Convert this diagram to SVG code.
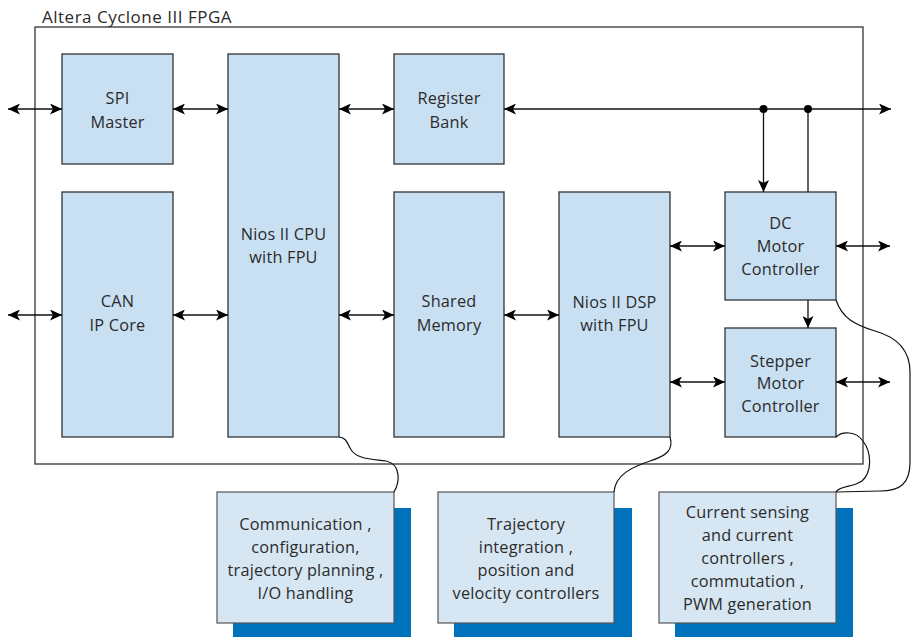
<svg xmlns="http://www.w3.org/2000/svg" width="911" height="637" viewBox="0 0 911 637">
<style>
.blk{fill:#c9e0f3;stroke:#333;stroke-width:1.3}
.note{fill:#d6e6f3;stroke:#555;stroke-width:1.2}
.shadow{fill:#0072bc}
.frame{fill:none;stroke:#333;stroke-width:1.3}
text{font-family:"Open Sans","Noto Sans","Liberation Sans",sans-serif;font-size:16.3px;letter-spacing:0.2px;fill:#2b2b2b;text-anchor:middle}
.title{text-anchor:start;font-size:17px;letter-spacing:0.5px}
.ln{stroke:#111;stroke-width:1.3;fill:none}
.bi{marker-start:url(#ah);marker-end:url(#ah)}
.one{marker-end:url(#ah)}
.crv{stroke:#111;stroke-width:1.2;fill:none}
</style>
<defs>
<marker id="ah" markerUnits="userSpaceOnUse" markerWidth="13" markerHeight="11" refX="12" refY="5.5" orient="auto-start-reverse">
<path d="M0,0 L12,5.5 L0,11 L3,5.5 z" fill="#000"/>
</marker>
</defs>
<rect width="911" height="637" fill="#fff"/>
<g id="fpga">
<rect class="frame" x="35" y="27" width="828" height="437"/>
<text class="title" x="42" y="23">Altera Cyclone III FPGA</text>
</g>
<g id="spi"><rect class="blk" x="62" y="54" width="111" height="110"/><text x="117.5" y="104">SPI</text><text x="117.5" y="128">Master</text></g>
<g id="can"><rect class="blk" x="62" y="192" width="111" height="245"/><text x="117.5" y="307">CAN</text><text x="117.5" y="331">IP Core</text></g>
<g id="cpu"><rect class="blk" x="228" y="54" width="111" height="383"/><text x="283.5" y="240">Nios II CPU</text><text x="283.5" y="263">with FPU</text></g>
<g id="reg"><rect class="blk" x="394" y="54" width="110" height="110"/><text x="449" y="104">Register</text><text x="449" y="128">Bank</text></g>
<g id="mem"><rect class="blk" x="394" y="192" width="110" height="245"/><text x="449" y="307">Shared</text><text x="449" y="331">Memory</text></g>
<g id="dsp"><rect class="blk" x="559" y="192" width="111" height="245"/><text x="614.5" y="308">Nios II DSP</text><text x="614.5" y="331">with FPU</text></g>
<g id="dc"><rect class="blk" x="725" y="192" width="111" height="108"/><text x="780.5" y="229">DC</text><text x="780.5" y="252">Motor</text><text x="780.5" y="275">Controller</text></g>
<g id="stepper"><rect class="blk" x="725" y="328" width="111" height="109"/><text x="780.5" y="367">Stepper</text><text x="780.5" y="389">Motor</text><text x="780.5" y="412">Controller</text></g>
<g id="note1"><rect class="shadow" x="233" y="508" width="178" height="129"/><rect class="note" x="217" y="492" width="177" height="131"/><text x="305.5" y="530">Communication ,</text><text x="305.5" y="553">configuration,</text><text x="305.5" y="576">trajectory planning ,</text><text x="305.5" y="599">I/O handling</text></g>
<g id="note2"><rect class="shadow" x="454" y="508" width="178" height="129"/><rect class="note" x="438" y="492" width="176" height="131"/><text x="526" y="530">Trajectory</text><text x="526" y="553">integration ,</text><text x="526" y="576">position and</text><text x="526" y="599">velocity controllers</text></g>
<g id="note3"><rect class="shadow" x="675" y="508" width="178" height="129"/><rect class="note" x="659" y="492" width="177" height="131"/><text x="747.5" y="518">Current sensing</text><text x="747.5" y="541">and current</text><text x="747.5" y="564">controllers ,</text><text x="747.5" y="587">commutation ,</text><text x="747.5" y="610">PWM generation</text></g>
<g id="connectors">
<line class="ln bi" x1="8" y1="109" x2="62" y2="109"/>
<line class="ln bi" x1="173" y1="109" x2="228" y2="109"/>
<line class="ln bi" x1="339" y1="109" x2="394" y2="109"/>
<line class="ln bi" x1="504" y1="109" x2="891" y2="109"/>
<line class="ln bi" x1="8" y1="315" x2="62" y2="315"/>
<line class="ln bi" x1="173" y1="315" x2="228" y2="315"/>
<line class="ln bi" x1="339" y1="315" x2="394" y2="315"/>
<line class="ln bi" x1="504" y1="315" x2="559" y2="315"/>
<line class="ln bi" x1="670" y1="246" x2="725" y2="246"/>
<line class="ln bi" x1="836" y1="246" x2="890" y2="246"/>
<line class="ln bi" x1="670" y1="382" x2="725" y2="382"/>
<line class="ln bi" x1="836" y1="382" x2="890" y2="382"/>
<line class="ln one" x1="763.5" y1="109" x2="763.5" y2="192"/>
<line class="ln" x1="808" y1="109" x2="808" y2="192"/>
<line class="ln one" x1="808" y1="300" x2="808" y2="328"/>
<circle cx="763.5" cy="109" r="4" fill="#000"/>
<circle cx="808" cy="109" r="4" fill="#000"/>
<path class="crv" d="M339,437 C347,437 348,446 352,451 C358,459 372,459 386,461 C401,464 400,482 394,492"/>
<path class="crv" d="M670,437 C674,450 666,456 650,461 C632,467 615,475 614,492"/>
<path class="crv" d="M836,437 C842,431 856,431 863,441 C872,453 872,472 862,481 C852,488 840,485 836,492"/>
<path class="crv" d="M836,300 C842,318 855,325 875,331 C900,338 910,352 910,372 L910,462 C910,484 900,491 880,491 L836,492"/>
</g>
</svg>
